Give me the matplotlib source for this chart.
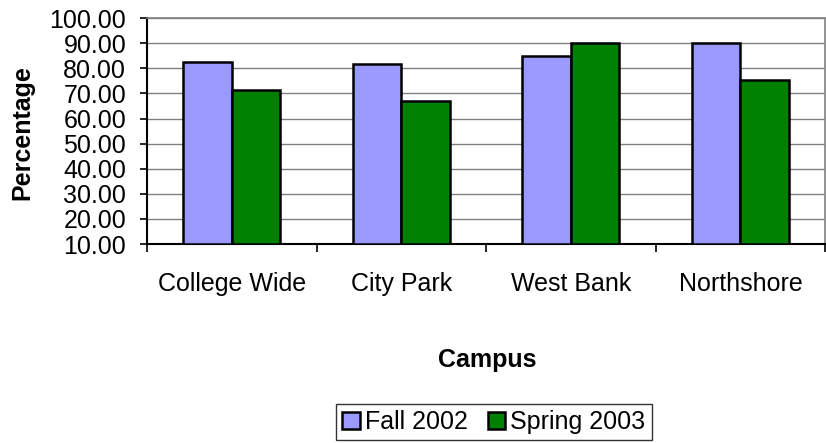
import numpy as np
import matplotlib.pyplot as plt

plt.rcParams['font.family'] = ['Liberation Sans', 'DejaVu Sans']

# data
campuses = ["College Wide", "City Park", "West Bank", "Northshore"]
fall_2002 = [82.4, 81.7, 85.0, 90.0]
spring_2003 = [71.2, 67.2, 90.3, 75.5]
series_names = ["Fall 2002", "Spring 2003"]
yticks = np.arange(10, 101, 10)

fig = plt.figure(figsize=(8.26, 4.43), dpi=100)
ax = fig.add_axes([0.178, 0.449, 0.821, 0.510])

x = np.arange(len(campuses))
w = 0.2857
base = 10
ax.bar(x - w/2, np.array(fall_2002) - base, w, bottom=base, color="#9999FF",
       edgecolor="black", linewidth=1.8, label=series_names[0], zorder=3)
ax.bar(x + w/2, np.array(spring_2003) - base, w, bottom=base, color="#008000",
       edgecolor="black", linewidth=1.8, label=series_names[1], zorder=3)

ax.set_xlim(-0.5, len(campuses) - 0.5)
ax.set_ylim(10, 100)
ax.set_yticks(yticks)
ax.set_yticklabels(["%.2f" % v for v in yticks], fontsize=18)
ax.yaxis.grid(True, color="#808080", linewidth=1.0, zorder=0)

ax.set_xticks(x)
ax.set_xticklabels(campuses, fontsize=18)
ax.set_xticks(np.arange(-0.5, len(campuses), 1), minor=True)
ax.tick_params(axis="x", which="major", length=0, pad=20)
ax.tick_params(axis="x", which="minor", length=6, width=1.2, direction="out")
ax.tick_params(axis="y", length=5, width=1.2, direction="out", pad=10)

for s in ["left", "bottom"]:
    ax.spines[s].set_color("black")
    ax.spines[s].set_linewidth(1.5)
for s in ["top", "right"]:
    ax.spines[s].set_color("#808080")
    ax.spines[s].set_linewidth(1.2)

fig.text(0.027, 0.70, "Percentage", rotation=90, ha="center", va="center",
         fontsize=18, fontweight="bold")
fig.text(0.59, 0.187, "Campus", ha="center", va="center",
         fontsize=18, fontweight="bold")

leg = fig.legend(loc="center", bbox_to_anchor=(0.598, 0.047), ncol=2,
                 fontsize=18, frameon=True, fancybox=False, handlelength=0.7,
                 handleheight=0.7, handletextpad=0.2, columnspacing=0.8,
                 borderpad=0.25, borderaxespad=0)
leg.get_frame().set_edgecolor("black")
leg.get_frame().set_linewidth(1.0)

fig.savefig("out.png", dpi=100)
